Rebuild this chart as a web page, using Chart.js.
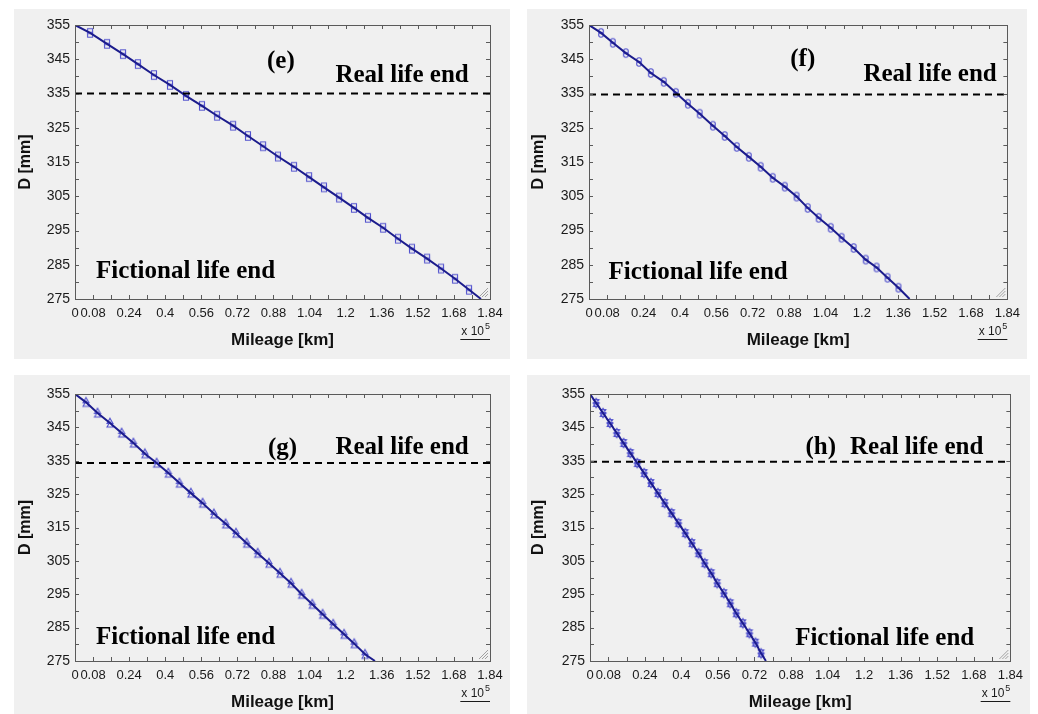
<!DOCTYPE html>
<html lang="en">
<head>
  <meta charset="UTF-8">
  <title>Wheel diameter vs mileage</title>
  <script src="https://cdn.jsdelivr.net/npm/chart.js"></script>
  <style>
    body {
      margin: 0;
      width: 1038px;
      height: 714px;
      overflow: hidden;
      position: relative;
      background: #fff;
      font-family: "Liberation Sans", Arial, sans-serif;
    }
    .panel { position: absolute; background: #f0f0f0; }
    canvas { display: block; }
  </style>
</head>
<body>
  <div class="panel" style="left:14px;top:9px;width:496px;height:350px"><canvas id="chartE" width="496" height="350"></canvas></div>
  <div class="panel" style="left:527px;top:9px;width:500px;height:350px"><canvas id="chartF" width="500" height="350"></canvas></div>
  <div class="panel" style="left:14px;top:375px;width:496px;height:346px"><canvas id="chartG" width="496" height="346"></canvas></div>
  <div class="panel" style="left:527px;top:375px;width:503px;height:346px"><canvas id="chartH" width="503" height="346"></canvas></div>

  <script>
    // axis ticks (mileage in x 10^5 km, diameter in mm)
    const xTicks = [0, 0.08, 0.16, 0.24, 0.32, 0.4, 0.48, 0.56, 0.64, 0.72, 0.8, 0.88, 0.96,
                    1.04, 1.12, 1.2, 1.28, 1.36, 1.44, 1.52, 1.6, 1.68, 1.76, 1.84];
    const xLabels = [0, 0.08, 0.24, 0.4, 0.56, 0.72, 0.88, 1.04, 1.2, 1.36, 1.52, 1.68, 1.84];
    const yTicks = [275, 280, 285, 290, 295, 300, 305, 310, 315, 320, 325, 330, 335, 340, 345, 350, 355];
    const yLabels = [275, 285, 295, 305, 315, 325, 335, 345, 355];

    // (e)
    const mileageE = [0, 0.067, 0.142, 0.213, 0.279, 0.350, 0.421, 0.492, 0.563, 0.630, 0.701, 0.767, 0.834, 0.900,
                      0.971, 1.038, 1.104, 1.171, 1.237, 1.299, 1.366, 1.432, 1.494, 1.561, 1.623, 1.685, 1.747, 1.800];
    const diameterE = [355, 352.7, 349.5, 346.5, 343.6, 340.4, 337.5, 334.3, 331.4, 328.5, 325.6, 322.6, 319.6, 316.6,
                       313.6, 310.6, 307.6, 304.6, 301.6, 298.7, 295.8, 292.6, 289.7, 286.8, 283.9, 280.9, 277.7, 275];
    // (f)
    const mileageF = [0, 0.053, 0.105, 0.162, 0.220, 0.272, 0.329, 0.382, 0.435, 0.487, 0.545, 0.597, 0.650, 0.703,
                      0.755, 0.808, 0.861, 0.913, 0.962, 1.010, 1.063, 1.111, 1.164, 1.217, 1.265, 1.313, 1.361, 1.410];
    const diameterF = [355, 352.7, 349.8, 346.8, 344.2, 341.0, 338.4, 335.2, 332.0, 329.1, 325.6, 322.6, 319.4, 316.5,
                       313.6, 310.4, 307.8, 304.9, 301.6, 298.7, 295.8, 292.9, 289.9, 286.5, 284.2, 281.2, 278.3, 275];
    // (g)
    const mileageG = [0, 0.049, 0.100, 0.155, 0.207, 0.259, 0.310, 0.362, 0.414, 0.463, 0.514, 0.566, 0.616, 0.668,
                      0.714, 0.761, 0.810, 0.860, 0.909, 0.958, 1.005, 1.052, 1.098, 1.145, 1.193, 1.238, 1.286, 1.330];
    const diameterG = [355, 352.5, 349.3, 346.3, 343.3, 340.3, 337.1, 334.3, 331.3, 328.3, 325.3, 322.3, 319.1, 316.1,
                       313.3, 310.3, 307.3, 304.3, 301.3, 298.3, 295.0, 292.0, 289.0, 286.0, 283.0, 280.2, 277.0, 275];
    // (h)
    const mileageH = [0, 0.027, 0.057, 0.087, 0.117, 0.147, 0.177, 0.207, 0.237, 0.267, 0.297, 0.327, 0.357, 0.387,
                      0.417, 0.446, 0.475, 0.502, 0.531, 0.557, 0.586, 0.614, 0.640, 0.669, 0.698, 0.724, 0.749, 0.770];
    const diameterH = [355, 352.3, 349.3, 346.3, 343.3, 340.3, 337.3, 334.3, 331.3, 328.3, 325.3, 322.3, 319.3, 316.3,
                       313.3, 310.3, 307.3, 304.3, 301.3, 298.3, 295.3, 292.3, 289.3, 286.3, 283.3, 280.5, 277.3, 275];

    // real life end limit per panel
    const lifeEnd = { e: 335, f: 334.7, g: 334.3, h: 334.7 };

    const serif = 'bold 25px "Liberation Serif", "Times New Roman", serif';
    const sans = '"Liberation Sans", Arial, sans-serif';

    // double marker: two outlines stacked (before / after reprofiling)
    function makeMarker(kind) {
      const c = document.createElement('canvas');
      c.width = 12; c.height = 14;
      const g = c.getContext('2d');
      g.strokeStyle = 'rgb(80,80,205)';
      g.lineWidth = 1.1;
      [5.2, 8.8].forEach(cy => {
        g.beginPath();
        if (kind === 'square') {
          g.rect(3.5, cy - 2.5, 5, 5);
        } else if (kind === 'circle') {
          g.arc(6, cy, 2.4, 0, Math.PI * 2);
        } else if (kind === 'triangle') {
          g.moveTo(6, cy - 3); g.lineTo(9, cy + 2.2); g.lineTo(3, cy + 2.2); g.closePath();
        } else {
          g.moveTo(6, cy - 3); g.lineTo(8.8, cy + 1.6); g.lineTo(3.2, cy + 1.6); g.closePath();
          g.moveTo(6, cy + 3); g.lineTo(8.8, cy - 1.6); g.lineTo(3.2, cy - 1.6); g.closePath();
        }
        g.stroke();
      });
      return c;
    }

    // box, inward ticks, resize grip and text labels
    const framePlugin = {
      id: 'frame',
      afterDraw(chart, args, opts) {
        const { ctx, chartArea: a, scales: { x, y } } = chart;
        ctx.save();
        ctx.strokeStyle = '#5a5a5a';
        ctx.lineWidth = 1;
        ctx.strokeRect(Math.round(a.left) + 0.5, Math.round(a.top) + 0.5, Math.round(a.width), Math.round(a.height));
        ctx.beginPath();
        x.ticks.forEach(t => {
          const px = Math.round(x.getPixelForValue(t.value)) + 0.5;
          ctx.moveTo(px, a.bottom); ctx.lineTo(px, a.bottom - 4);
          ctx.moveTo(px, a.top); ctx.lineTo(px, a.top + 4);
        });
        y.ticks.forEach(t => {
          const py = Math.round(y.getPixelForValue(t.value)) + 0.5;
          ctx.moveTo(a.left, py); ctx.lineTo(a.left + 4, py);
          ctx.moveTo(a.right, py); ctx.lineTo(a.right - 4, py);
        });
        ctx.stroke();

        // grip in the corner
        ctx.strokeStyle = '#a0a0a0';
        ctx.beginPath();
        for (let k = 3; k <= 9; k += 3) {
          ctx.moveTo(a.right - 2, a.bottom - 2 - k);
          ctx.lineTo(a.right - 2 - k, a.bottom - 2);
        }
        ctx.stroke();

        // annotations placed in data units
        ctx.fillStyle = '#000';
        ctx.textAlign = 'center';
        ctx.textBaseline = 'middle';
        ctx.font = serif;
        opts.labels.forEach(l => {
          ctx.fillText(l.text, x.getPixelForValue(l.x), y.getPixelForValue(l.y));
        });

        // x 10^5 exponent
        ctx.fillStyle = '#1a1a1a';
        ctx.textAlign = 'left';
        ctx.textBaseline = 'alphabetic';
        ctx.font = '12px ' + sans;
        const base = 'x 10';
        const w1 = ctx.measureText(base).width;
        ctx.font = '9px ' + sans;
        const w2 = ctx.measureText('5').width;
        const x0 = a.right - w1 - w2 - 1;
        const yb = a.bottom + 36;
        ctx.font = '12px ' + sans;
        ctx.fillText(base, x0, yb);
        ctx.font = '9px ' + sans;
        ctx.fillText('5', x0 + w1 + 1, yb - 6);
        ctx.strokeStyle = '#1a1a1a';
        ctx.beginPath();
        ctx.moveTo(x0 - 1, yb + 4.5); ctx.lineTo(a.right, yb + 4.5);
        ctx.stroke();
        ctx.restore();
      }
    };

    function buildChart(id, cfg) {
      const pts = cfg.mileage.map((m, i) => ({ x: m, y: cfg.diameter[i] }));
      return new Chart(document.getElementById(id), {
        type: 'scatter',
        data: {
          datasets: [
            {
              data: [{ x: 0, y: cfg.limit }, { x: 1.84, y: cfg.limit }],
              showLine: true, borderColor: '#000', borderWidth: 2, borderDash: [7, 5], pointRadius: 0
            },
            {
              data: pts, showLine: true, borderColor: '#1c1c8c', borderWidth: 2, pointRadius: 0
            },
            {
              data: pts.slice(1, -1), showLine: false, pointStyle: makeMarker(cfg.marker), pointRadius: 4
            }
          ]
        },
        options: {
          responsive: false,
          animation: false,
          layout: { padding: { top: cfg.top, right: cfg.right, left: 0, bottom: 0 } },
          plugins: {
            legend: { display: false },
            tooltip: { enabled: false },
            frame: { labels: cfg.labels }
          },
          scales: {
            x: {
              type: 'linear', min: 0, max: 1.84,
              afterBuildTicks: s => { s.ticks = xTicks.map(v => ({ value: v })); },
              afterFit: s => { s.height = cfg.bottomH; },
              ticks: {
                autoSkip: false, maxRotation: 0, padding: 7, color: '#1a1a1a',
                font: { size: 13, family: sans },
                callback: v => xLabels.includes(v) ? String(v) : ''
              },
              grid: { display: false, drawTicks: false },
              border: { display: true, color: '#5a5a5a' },
              title: {
                display: true, text: 'Mileage [km]', color: '#111',
                font: { size: 17, weight: 'bold', family: sans },
                padding: { top: 0, bottom: 8 }
              }
            },
            y: {
              type: 'linear', min: 275, max: 355,
              afterBuildTicks: s => { s.ticks = yTicks.map(v => ({ value: v })); },
              afterFit: s => { s.width = cfg.leftW; },
              ticks: {
                autoSkip: false, padding: 5, color: '#1a1a1a',
                font: { size: 14, family: sans },
                callback: v => yLabels.includes(v) ? String(v) : ''
              },
              grid: { display: false, drawTicks: false },
              border: { display: true, color: '#5a5a5a' },
              title: {
                display: true, text: 'D [mm]', color: '#111',
                font: { size: 16, weight: 'bold', family: sans },
                padding: { top: 2, bottom: 0 }
              }
            }
          }
        },
        plugins: [framePlugin]
      });
    }

    buildChart('chartE', {
      mileage: mileageE, diameter: diameterE, limit: lifeEnd.e, marker: 'square',
      leftW: 61, top: 16, right: 20, bottomH: 60,
      labels: [
        { text: '(e)', x: 0.913, y: 344.2 },
        { text: 'Real life end', x: 1.45, y: 340.1 },
        { text: 'Fictional life end', x: 0.49, y: 283 }
      ]
    });
    buildChart('chartF', {
      mileage: mileageF, diameter: diameterF, limit: lifeEnd.f, marker: 'circle',
      leftW: 62, top: 16, right: 19, bottomH: 60,
      labels: [
        { text: '(f)', x: 0.94, y: 344.8 },
        { text: 'Real life end', x: 1.50, y: 340.4 },
        { text: 'Fictional life end', x: 0.48, y: 282.7 }
      ]
    });
    buildChart('chartG', {
      mileage: mileageG, diameter: diameterG, limit: lifeEnd.g, marker: 'triangle',
      leftW: 61, top: 19, right: 20, bottomH: 60,
      labels: [
        { text: '(g)', x: 0.92, y: 338.6 },
        { text: 'Real life end', x: 1.45, y: 338.9 },
        { text: 'Fictional life end', x: 0.49, y: 282.1 }
      ]
    });
    buildChart('chartH', {
      mileage: mileageH, diameter: diameterH, limit: lifeEnd.h, marker: 'hexagram',
      leftW: 63, top: 19, right: 18, bottomH: 60,
      labels: [
        { text: '(h)', x: 1.01, y: 338.9 },
        { text: 'Real life end', x: 1.43, y: 338.9 },
        { text: 'Fictional life end', x: 1.29, y: 281.8 }
      ]
    });
  </script>
</body>
</html>
